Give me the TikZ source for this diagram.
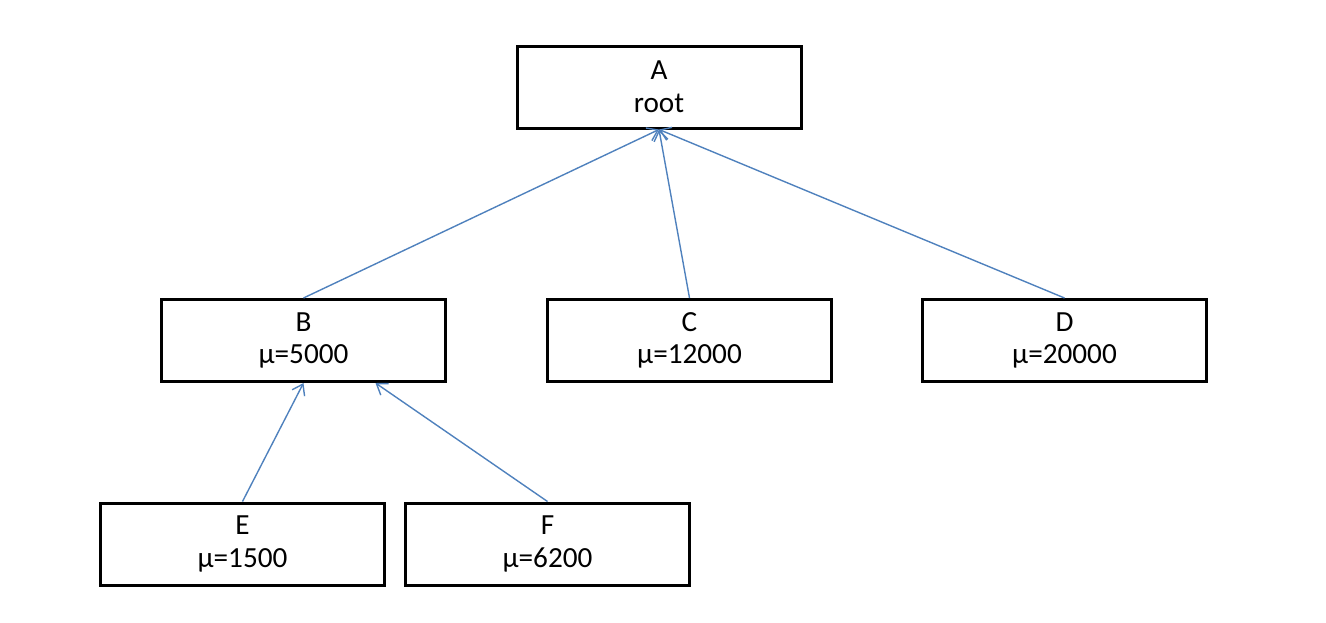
\documentclass[tikz,border=0pt]{standalone}
\usepackage{fontspec}
\setmainfont{Carlito}
\usepackage{tikz}
\usetikzlibrary{arrows.meta}
\definecolor{linkblue}{RGB}{79,129,189}
\tikzset{
    tree-box/.style = {draw=black, fill=white, line width=1.5pt, rectangle, minimum width=142pt, minimum height=41pt, align=center, font=\fontsize{14.6}{16.3}\selectfont, inner sep=0pt},
    tree-link/.style = {draw=linkblue, line width=0.7pt, -{Straight Barb[length=5pt,width=7pt]}},
}

\begin{document}
\begin{tikzpicture}[x=0.5pt, y=-0.5pt]
\useasboundingbox (0,0) rectangle (1326,622);
\node[tree-box] (A) at (659,87) {A\\root};
\node[tree-box] (B) at (303.5,340.5) {B\\μ=5000};
\node[tree-box] (C) at (689.5,340.5) {C\\μ=12000};
\node[tree-box] (D) at (1064.5,340.5) {D\\μ=20000};
\node[tree-box] (E) at (242.5,544) {E\\μ=1500};
\node[tree-box] (F) at (547.5,544) {F\\μ=6200};
\draw[tree-link] (B.north) -- (A.south);
\draw[tree-link] (C.north) -- (A.south);
\draw[tree-link] (D.north) -- (A.south);
\draw[tree-link] (E.north) -- (B.south);
\draw[tree-link] (F.north) -- ([xshift=36pt]B.south);
\end{tikzpicture}
\end{document}
